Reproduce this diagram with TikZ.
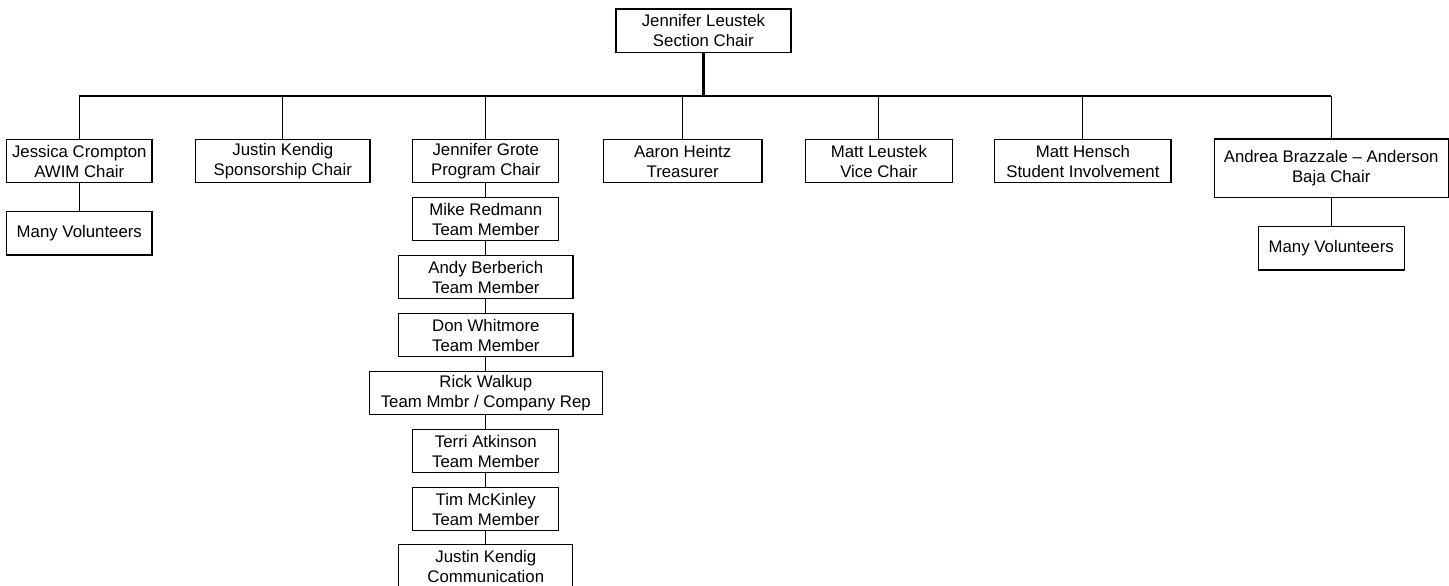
\documentclass[tikz,border=0pt]{standalone}
\usepackage{fontspec}
\setmainfont{Liberation Sans}
\begin{document}
\begin{tikzpicture}[x=0.5pt,y=-0.5pt,
  box/.style={draw,line width=0.65pt,inner sep=0pt,align=center,
    font=\fontsize{8.4}{10}\selectfont,minimum height=21.7pt},
  link/.style={line width=0.55pt},
  trunk/.style={line width=1.35pt}]
\useasboundingbox (0,0) rectangle (1449,585);
\clip (0,0) rectangle (1449,585);
% top
\node[box,minimum width=87.5pt] (top) at (703.4,30.7) {Jennifer Leustek\\Section Chair};
% row 2
\node[box,minimum width=72.65pt] (jc) at (79.3,161) {Jessica Crompton\\AWIM Chair};
\node[box,minimum width=87.2pt] (jk) at (282.8,161) {Justin Kendig\\Sponsorship Chair};
\node[box,minimum width=73pt] (jg) at (485.8,161) {Jennifer Grote\\Program Chair};
\node[box,minimum width=79.35pt] (ah) at (682.7,161) {Aaron Heintz\\Treasurer};
\node[box,minimum width=73.35pt] (ml) at (878.9,161) {Matt Leustek\\Vice Chair};
\node[box,minimum width=88.1pt] (mh) at (1082.9,161) {Matt Hensch\\Student Involvement};
\node[box,minimum width=117pt,minimum height=29.15pt] (ab) at (1331.2,168.2) {Andrea Brazzale -- Anderson\\Baja Chair};
% volunteers
\node[box,minimum width=72.65pt] (mv1) at (79.3,233.3) {Many Volunteers};
\node[box,minimum width=73pt] (mv2) at (1331.2,248.2) {Many Volunteers};
% program team
\node[box,minimum width=73pt] (m1) at (485.8,219) {Mike Redmann\\Team Member};
\node[box,minimum width=87.3pt] (m2) at (485.8,277) {Andy Berberich\\Team Member};
\node[box,minimum width=87.3pt] (m3) at (485.8,335) {Don Whitmore\\Team Member};
\node[box,minimum width=116.5pt] (m4) at (485.8,393) {Rick Walkup\\Team Mmbr / Company Rep};
\node[box,minimum width=73pt] (m5) at (485.8,451) {Terri Atkinson\\Team Member};
\node[box,minimum width=73pt] (m6) at (485.8,509) {Tim McKinley\\Team Member};
\node[box,minimum width=87pt] (m7) at (485.8,566.5) {Justin Kendig\\Communication};
% connectors
\coordinate (bus) at (703.4,96);
\draw[trunk] (top.south) -- (bus);
\draw[link] (bus -| jc.north) -- (bus -| ab.north);
\foreach \n in {jc,jk,jg,ah,ml,mh,ab}{\draw[link] (\n.north) -- (\n.north |- bus);}
\draw[link] (jc.south) -- (mv1.north);
\draw[link] (ab.south) -- (mv2.north);
\draw[link] (jg.south) -- (m1.north);
\draw[link] (m1.south) -- (m2.north);
\draw[link] (m2.south) -- (m3.north);
\draw[link] (m3.south) -- (m4.north);
\draw[link] (m4.south) -- (m5.north);
\draw[link] (m5.south) -- (m6.north);
\draw[link] (m6.south) -- (m7.north);
\end{tikzpicture}
\end{document}
